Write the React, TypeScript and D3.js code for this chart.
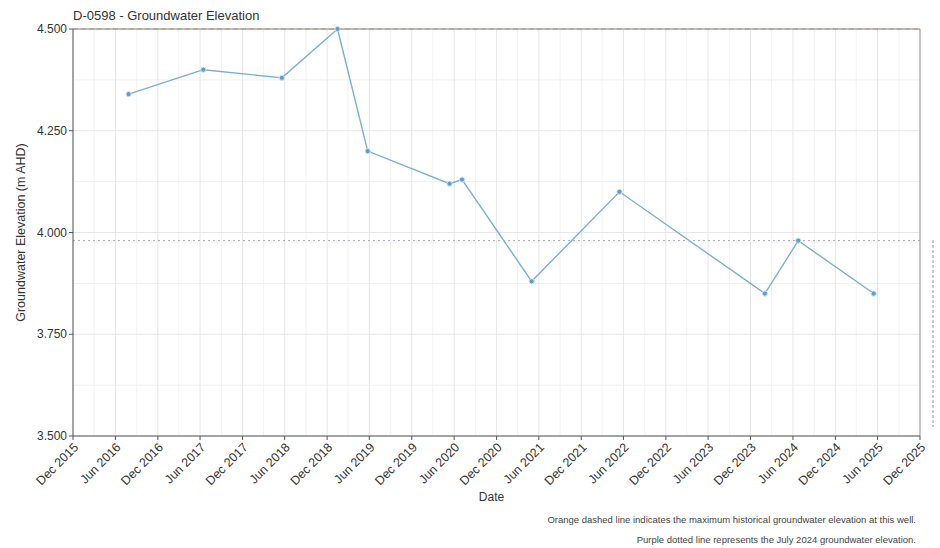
import React from "react";
import * as d3 from "d3";

// Groundwater elevation readings for bore D-0598
const sampleDates = [
  "2016-07-28",
  "2017-06-15",
  "2018-05-20",
  "2019-01-15",
  "2019-05-25",
  "2020-05-12",
  "2020-07-05",
  "2021-05-01",
  "2022-05-15",
  "2024-02-01",
  "2024-06-24",
  "2025-05-15",
];
const elevations = [4.34, 4.4, 4.38, 4.5, 4.2, 4.12, 4.13, 3.88, 4.1, 3.85, 3.98, 3.85];

const yTicks = [3.5, 3.75, 4.0, 4.25, 4.5];
const maxHistorical = 4.5;
const july2024Level = 3.98;

const titleText = "D-0598 - Groundwater Elevation";
const yAxisTitle = "Groundwater Elevation (m AHD)";
const xAxisTitle = "Date";
const noteOrange = "Orange dashed line indicates the maximum historical groundwater elevation at this well.";
const notePurple = "Purple dotted line represents the July 2024 groundwater elevation.";

const W = 940;
const H = 548;
const M = { left: 73, right: 20, top: 29, bottom: 112 };

export default function App() {
  const parse = d3.timeParse("%Y-%m-%d");
  const points = sampleDates.map((s, i) => ({ date: parse(s) as Date, value: elevations[i] }));

  const x = d3
    .scaleTime()
    .domain([new Date(2015, 11, 1), new Date(2025, 11, 1)])
    .range([M.left, W - M.right]);
  const y = d3.scaleLinear().domain([3.5, 4.5]).range([H - M.bottom, M.top]);

  const allMonths = d3.timeMonth.range(new Date(2015, 11, 1), new Date(2025, 11, 2));
  const majorX = allMonths.filter((_, i) => i % 6 === 0);
  const minorX = allMonths.filter((_, i) => i % 3 === 0 && i % 6 !== 0);
  const minorY = d3.range(3.625, 4.5, 0.25);
  const fmtDate = d3.timeFormat("%b %Y");
  const fmtVal = d3.format(".3f");

  const line = d3
    .line<{ date: Date; value: number }>()
    .x((d) => x(d.date))
    .y((d) => y(d.value));

  const [x0, x1] = x.range();
  const [yb, yt] = y.range();
  const font = "'Liberation Sans', Arial, sans-serif";

  return (
    <svg
      width={W}
      height={H}
      style={{ position: "absolute", left: 0, top: 0, background: "#fff" }}
      fontFamily={font}
    >
      <rect x={0} y={0} width={W} height={H} fill="#fff" />

      {/* grid */}
      <g>
        {minorX.map((d, i) => (
          <line key={"mx" + i} x1={x(d)} x2={x(d)} y1={yt} y2={yb} stroke="#f2f2f2" strokeWidth={1} />
        ))}
        {minorY.map((v, i) => (
          <line key={"my" + i} x1={x0} x2={x1} y1={y(v)} y2={y(v)} stroke="#f0f0f0" strokeWidth={1} />
        ))}
        {majorX.map((d, i) => (
          <line key={"gx" + i} x1={x(d)} x2={x(d)} y1={yt} y2={yb} stroke="#e6e6e6" strokeWidth={1} />
        ))}
        {yTicks.map((v, i) => (
          <line key={"gy" + i} x1={x0} x2={x1} y1={y(v)} y2={y(v)} stroke="#e6e6e6" strokeWidth={1} />
        ))}
      </g>

      {/* reference lines */}
      <line
        x1={x0}
        x2={x1}
        y1={y(maxHistorical)}
        y2={y(maxHistorical)}
        stroke="#f0a050"
        strokeWidth={1}
        strokeDasharray="5,3"
      />
      <line
        x1={x0}
        x2={x1}
        y1={y(july2024Level)}
        y2={y(july2024Level)}
        stroke="#aaa0bf"
        strokeWidth={1}
        strokeDasharray="2,3"
      />

      {/* frame */}
      <line x1={x0} x2={x1} y1={yt} y2={yt} stroke="#888" strokeWidth={1} />
      <line x1={x1} x2={x1} y1={yt} y2={yb} stroke="#999" strokeWidth={1} />
      <line x1={x0} x2={x0} y1={yt} y2={yb} stroke="#555" strokeWidth={1} />
      <line x1={x0} x2={x1} y1={yb} y2={yb} stroke="#555" strokeWidth={1} />

      {/* series */}
      <path d={line(points) || ""} fill="none" stroke="#7fadd2" strokeWidth={1.4} />
      {points.map((p, i) => (
        <circle key={"pt" + i} cx={x(p.date)} cy={y(p.value)} r={2.6} fill="#5d9dd3" stroke="#d3e6f5" strokeWidth={1} />
      ))}

      {/* y axis */}
      {yTicks.map((v, i) => (
        <g key={"yt" + i}>
          <line x1={x0 - 4} x2={x0} y1={y(v)} y2={y(v)} stroke="#555" />
          <text x={x0 - 6} y={y(v)} dy="0.35em" textAnchor="end" fontSize={12} fill="#333">
            {fmtVal(v)}
          </text>
        </g>
      ))}
      <text
        transform={`translate(25,${(yt + yb) / 2}) rotate(-90)`}
        textAnchor="middle"
        fontSize={12.5}
        fill="#333"
      >
        {yAxisTitle}
      </text>

      {/* x axis */}
      {majorX.map((d, i) => (
        <g key={"xt" + i}>
          <line x1={x(d)} x2={x(d)} y1={yb} y2={yb + 4} stroke="#555" />
          <text
            transform={`translate(${x(d) + 3},${yb + 9}) rotate(-45)`}
            textAnchor="end"
            dy="0.35em"
            fontSize={12.5}
            fill="#333"
          >
            {fmtDate(d)}
          </text>
        </g>
      ))}
      <text x={(x0 + x1) / 2 - 5} y={501} textAnchor="middle" fontSize={12} fill="#333">
        {xAxisTitle}
      </text>

      {/* title */}
      <text x={x0} y={20} fontSize={13} fill="#333">
        {titleText}
      </text>

      {/* notes */}
      <text x={916} y={523} textAnchor="end" fontSize={9.5} fill="#444">
        {noteOrange}
      </text>
      <text x={916} y={543} textAnchor="end" fontSize={9.5} fill="#444">
        {notePurple}
      </text>

      {/* side marker strip */}
      <line x1={933} x2={933} y1={240} y2={427} stroke="#999" strokeWidth={1} strokeDasharray="3,2" />
    </svg>
  );
}
